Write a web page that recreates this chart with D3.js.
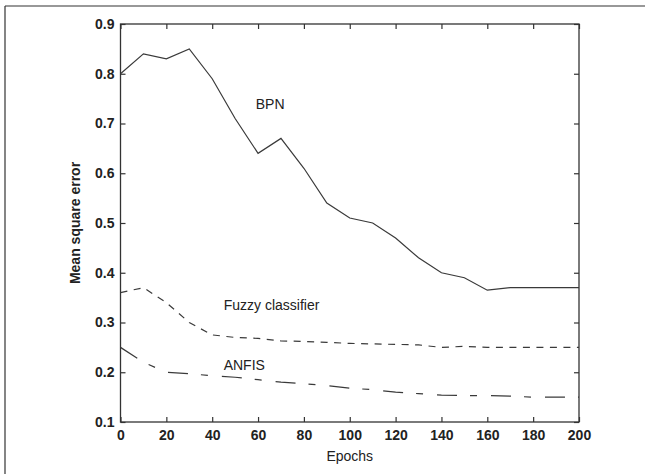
<!DOCTYPE html>
<html>
<head>
<meta charset="utf-8">
<script src="https://cdn.jsdelivr.net/npm/d3@7"></script>
<style>
  body { margin: 0; background: #fff; }
  svg { display: block; }
</style>
</head>
<body>
<div id="chart"></div>
<script>
// epochs sampled every 10
const epochs = [0, 10, 20, 30, 40, 50, 60, 70, 80, 90, 100, 110, 120, 130, 140, 150, 160, 170, 180, 190, 200];
const bpn   = [0.80, 0.84, 0.83, 0.85, 0.79, 0.71, 0.64, 0.67, 0.61, 0.54, 0.51, 0.50, 0.47, 0.43, 0.40, 0.39, 0.365, 0.37, 0.37, 0.37, 0.37];
const fuzzy = [0.36, 0.37, 0.34, 0.30, 0.275, 0.27, 0.268, 0.263, 0.262, 0.26, 0.258, 0.257, 0.256, 0.255, 0.25, 0.252, 0.25, 0.25, 0.25, 0.25, 0.25];
const anfis = [0.25, 0.22, 0.20, 0.197, 0.193, 0.19, 0.185, 0.18, 0.177, 0.173, 0.168, 0.165, 0.16, 0.157, 0.154, 0.153, 0.153, 0.152, 0.15, 0.15, 0.15];

const xTicks = [0, 20, 40, 60, 80, 100, 120, 140, 160, 180, 200];
const yTicks = [0.1, 0.2, 0.3, 0.4, 0.5, 0.6, 0.7, 0.8, 0.9];

// curve labels: [text, epoch, value]
const curveLabels = [["BPN", 59, 0.729], ["Fuzzy classifier", 45, 0.325], ["ANFIS", 45, 0.204]];

const W = 645, H = 474;
const margin = { top: 24, right: 66, bottom: 52, left: 120.5 };
const fontFam = "'Liberation Sans', Arial, sans-serif";
const ink = "#333";

const svg = d3.select("#chart").append("svg")
  .attr("width", W)
  .attr("height", H);

// frame lines (top & left only show in the scan)
svg.append("line").attr("x1", 5).attr("x2", W).attr("y1", 6).attr("y2", 6)
  .attr("stroke", ink).attr("stroke-width", 1.2);
svg.append("line").attr("x1", 5).attr("x2", 5).attr("y1", 6).attr("y2", H)
  .attr("stroke", ink).attr("stroke-width", 1.2);

const x = d3.scaleLinear().domain([0, 200]).range([margin.left, W - margin.right]);
const y = d3.scaleLinear().domain([0.1, 0.9]).range([H - margin.bottom, margin.top]);

const g = svg.append("g");

// box
g.append("rect")
  .attr("x", x(0)).attr("y", y(0.9))
  .attr("width", x(200) - x(0)).attr("height", y(0.1) - y(0.9))
  .attr("fill", "none").attr("stroke", ink).attr("stroke-width", 1.3);

const tickLen = 5;

// bottom axis
const xAxis = g.append("g")
  .attr("transform", `translate(0,${y(0.1)})`)
  .call(d3.axisBottom(x).tickValues(xTicks).tickSize(-tickLen).tickPadding(5).tickFormat(d3.format("d")));
// top axis ticks
const xAxisTop = g.append("g")
  .attr("transform", `translate(0,${y(0.9)})`)
  .call(d3.axisTop(x).tickValues(xTicks).tickSize(-tickLen).tickFormat(""));
// left axis
const yAxis = g.append("g")
  .attr("transform", `translate(${x(0)},0)`)
  .call(d3.axisLeft(y).tickValues(yTicks).tickSize(-tickLen).tickPadding(6).tickFormat(d3.format(".1f")));
// right axis ticks
const yAxisRight = g.append("g")
  .attr("transform", `translate(${x(200)},0)`)
  .call(d3.axisRight(y).tickValues(yTicks).tickSize(-tickLen).tickFormat(""));

[xAxis, xAxisTop, yAxis, yAxisRight].forEach(a => {
  a.select(".domain").remove();
  a.selectAll(".tick line").attr("stroke", ink).attr("stroke-width", 1.2);
  a.selectAll(".tick text")
    .attr("fill", "#222")
    .style("font-family", fontFam)
    .style("font-size", "14px")
    .style("font-weight", "bold");
});
xAxis.selectAll(".tick text").attr("dy", "0.95em");

// lines
const line = d3.line()
  .x((d, i) => x(epochs[i]))
  .y(d => y(d));

const series = [
  { values: bpn, dash: null },
  { values: fuzzy, dash: "7,6.5" },
  { values: anfis, dash: "20,13,7,14" }
];

g.selectAll(".series")
  .data(series)
  .enter()
  .append("path")
  .attr("class", "series")
  .attr("d", d => line(d.values))
  .attr("fill", "none")
  .attr("stroke", "#3a3a3a")
  .attr("stroke-width", 1.2)
  .attr("stroke-dasharray", d => d.dash);

// curve labels
g.selectAll(".clabel")
  .data(curveLabels)
  .enter()
  .append("text")
  .attr("class", "clabel")
  .attr("x", d => x(d[1]))
  .attr("y", d => y(d[2]))
  .attr("fill", "#222")
  .style("font-family", fontFam)
  .style("font-size", "14px")
  .text(d => d[0]);

// axis titles
svg.append("text")
  .attr("x", (x(0) + x(200)) / 2)
  .attr("y", 461)
  .attr("text-anchor", "middle")
  .attr("fill", "#222")
  .style("font-family", fontFam)
  .style("font-size", "14px")
  .text("Epochs");

svg.append("text")
  .attr("transform", `translate(80,${(y(0.1) + y(0.9)) / 2}) rotate(-90)`)
  .attr("text-anchor", "middle")
  .attr("fill", "#222")
  .style("font-family", fontFam)
  .style("font-size", "14px")
  .style("font-weight", "bold")
  .text("Mean square error");
</script>
</body>
</html>
